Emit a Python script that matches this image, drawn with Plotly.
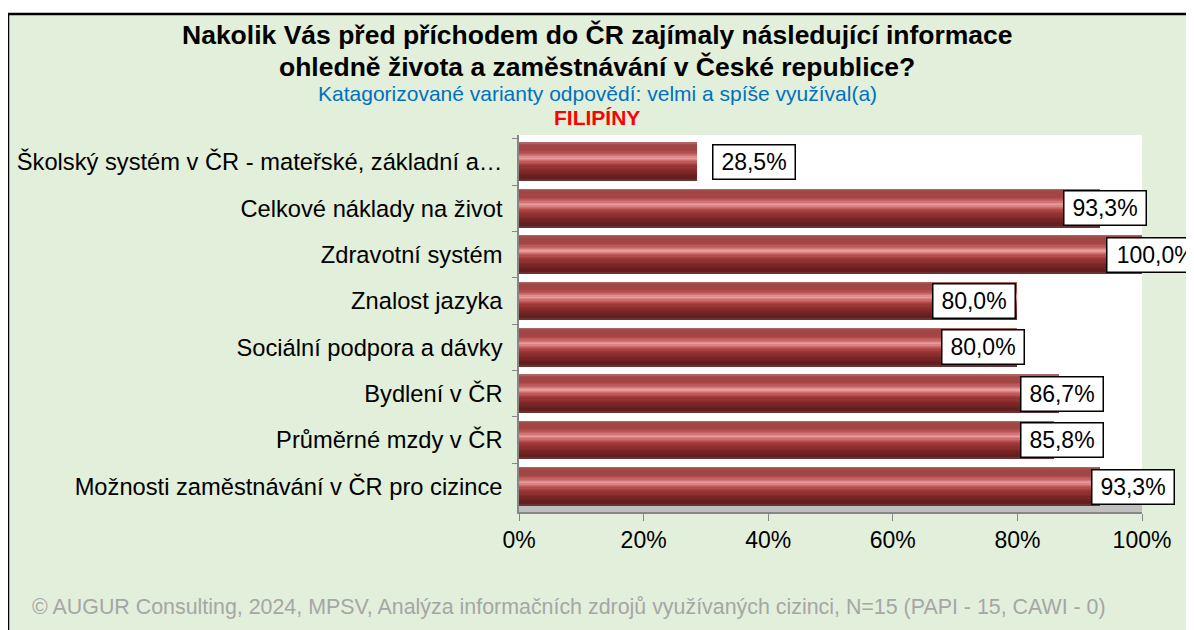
import plotly.graph_objects as go

# ---- data ----
categories = [
    "Školský systém v ČR - mateřské, základní a…",
    "Celkové náklady na život",
    "Zdravotní systém",
    "Znalost jazyka",
    "Sociální podpora a dávky",
    "Bydlení v ČR",
    "Průměrné mzdy v ČR",
    "Možnosti zaměstnávání v ČR pro cizince",
]
values = [28.5, 93.3, 100.0, 80.0, 80.0, 86.7, 85.8, 93.3]
label_x = [37.8, 94.1, 102.2, 73.1, 74.4, 87.2, 87.2, 98.6]  # label box centres (% scale)
tick_vals = [0, 20, 40, 60, 80, 100]
tick_text = ["0%", "20%", "40%", "60%", "80%", "100%"]

title_1 = "Nakolik Vás před příchodem do ČR zajímaly následující informace"
title_2 = "ohledně života a zaměstnávání v České republice?"
subtitle = "Katagorizované varianty odpovědí: velmi a spíše využíval(a)"
country = "FILIPÍNY"
footer = "© AUGUR Consulting, 2024, MPSV, Analýza informačních zdrojů využívaných cizinci, N=15 (PAPI - 15, CAWI - 0)"

# ---- layout geometry (page body has an 8px margin at left/top) ----
OFF = 8
W, H = 1194 - OFF, 630 - OFF
L, R, T, B = 519 - OFF, 52, 135 - OFF, 118
PW, PH = W - L - R, H - T - B
FONT = "Liberation Sans, Arial, sans-serif"


def px(xp):
    return (xp - OFF - L) / PW


def py(yp):
    return (H - B - (yp - OFF)) / PH


fig = go.Figure()

# cylinder shading: piecewise-linear colour stops across bar thickness
stops = [
    (0.00, (176, 110, 110)),
    (0.06, (160, 70, 70)),
    (0.22, (166, 68, 68)),
    (0.33, (200, 104, 104)),
    (0.41, (236, 160, 160)),
    (0.49, (204, 102, 102)),
    (0.60, (160, 58, 58)),
    (0.78, (124, 38, 38)),
    (0.94, (96, 28, 28)),
    (1.00, (110, 60, 60)),
]


def colour_at(f):
    for (a, ca), (b, cb) in zip(stops[:-1], stops[1:]):
        if a <= f <= b:
            t = (f - a) / (b - a) if b > a else 0
            c = [round(ca[i] + (cb[i] - ca[i]) * t) for i in range(3)]
            return f"rgb({c[0]},{c[1]},{c[2]})"
    return "rgb(110,60,60)"


BAR_W = 0.82
N_BANDS = 30
for k in range(N_BANDS):
    f0, f1 = k / N_BANDS, (k + 1) / N_BANDS
    fig.add_trace(go.Bar(
        y=categories, x=values, orientation="h",
        width=[(f1 - f0) * BAR_W + 0.004] * len(values),
        offset=[-BAR_W / 2 + f0 * BAR_W] * len(values),
        marker=dict(color=colour_at((f0 + f1) / 2), line=dict(width=0)),
        hoverinfo="skip", showlegend=False,
    ))

# value labels
for cat, v, lx in zip(categories, values, label_x):
    txt = f"{v:.1f}".replace(".", ",") + "%"
    fig.add_annotation(
        x=lx / 100, xref="paper", y=cat, yref="y",
        text=txt, showarrow=False,
        font=dict(family=FONT, size=23, color="black"),
        bgcolor="white", bordercolor="black", borderwidth=1.5,
        borderpad=2, width=15.4 * len(txt), height=29,
        xanchor="center", yanchor="middle",
    )

# texts
for txt, yp, size, col, bold in [
    (title_1, 35, 26.5, "black", True),
    (title_2, 67, 26.5, "black", True),
    (subtitle, 93, 21, "#0070C0", False),
    (country, 117, 21, "#FF0000", True),
]:
    fig.add_annotation(
        x=px(597), y=py(yp), xref="paper", yref="paper",
        text=f"<b>{txt}</b>" if bold else txt, showarrow=False,
        font=dict(family=FONT, size=size, color=col),
        xanchor="center", yanchor="middle",
    )
fig.add_annotation(
    x=px(30), y=py(607), xref="paper", yref="paper",
    text=footer, showarrow=False,
    font=dict(family=FONT, size=21.4, color="#A6A6A6"),
    xanchor="left", yanchor="middle",
)

# background shapes
fig.add_shape(type="rect", xref="paper", yref="paper",
              x0=px(8), x1=px(1220), y0=py(14), y1=py(660),
              fillcolor="#E2EFDA", line=dict(color="black", width=2.5), layer="below")
fig.add_shape(type="rect", xref="paper", yref="paper",
              x0=0, x1=1, y0=py(504), y1=1,
              fillcolor="white", line=dict(width=0), layer="below")
fig.add_shape(type="rect", xref="paper", yref="paper",
              x0=0, x1=1, y0=0, y1=py(504),
              fillcolor="#C0C0C0", line=dict(width=0), layer="below")

fig.update_layout(
    width=W, height=H,
    margin=dict(l=L, r=R, t=T, b=B, pad=0, autoexpand=False),
    paper_bgcolor="white", plot_bgcolor="white",
    barmode="overlay", bargap=0,
    showlegend=False,
    font=dict(family=FONT, color="black"),
)
fig.update_xaxes(
    range=[0, 100], tickvals=tick_vals, ticktext=tick_text,
    showgrid=False, zeroline=False, automargin=False,
    showline=True, linecolor="#868686", linewidth=1.5,
    ticks="outside", ticklen=7, tickcolor="#868686",
    tickfont=dict(family=FONT, size=23, color="black"),
    fixedrange=True,
)
fig.update_yaxes(
    type="category", categoryorder="array", categoryarray=categories,
    range=[7.55, -0.58],
    showgrid=False, zeroline=False, automargin=False,
    showline=True, linecolor="#868686", linewidth=1.5,
    ticks="outside", ticklen=5, tickcolor="#868686", tickson="boundaries",
    ticklabelstandoff=10,
    tickfont=dict(family=FONT, size=23.7, color="black"),
    fixedrange=True,
)

fig.write_html("out.html")
